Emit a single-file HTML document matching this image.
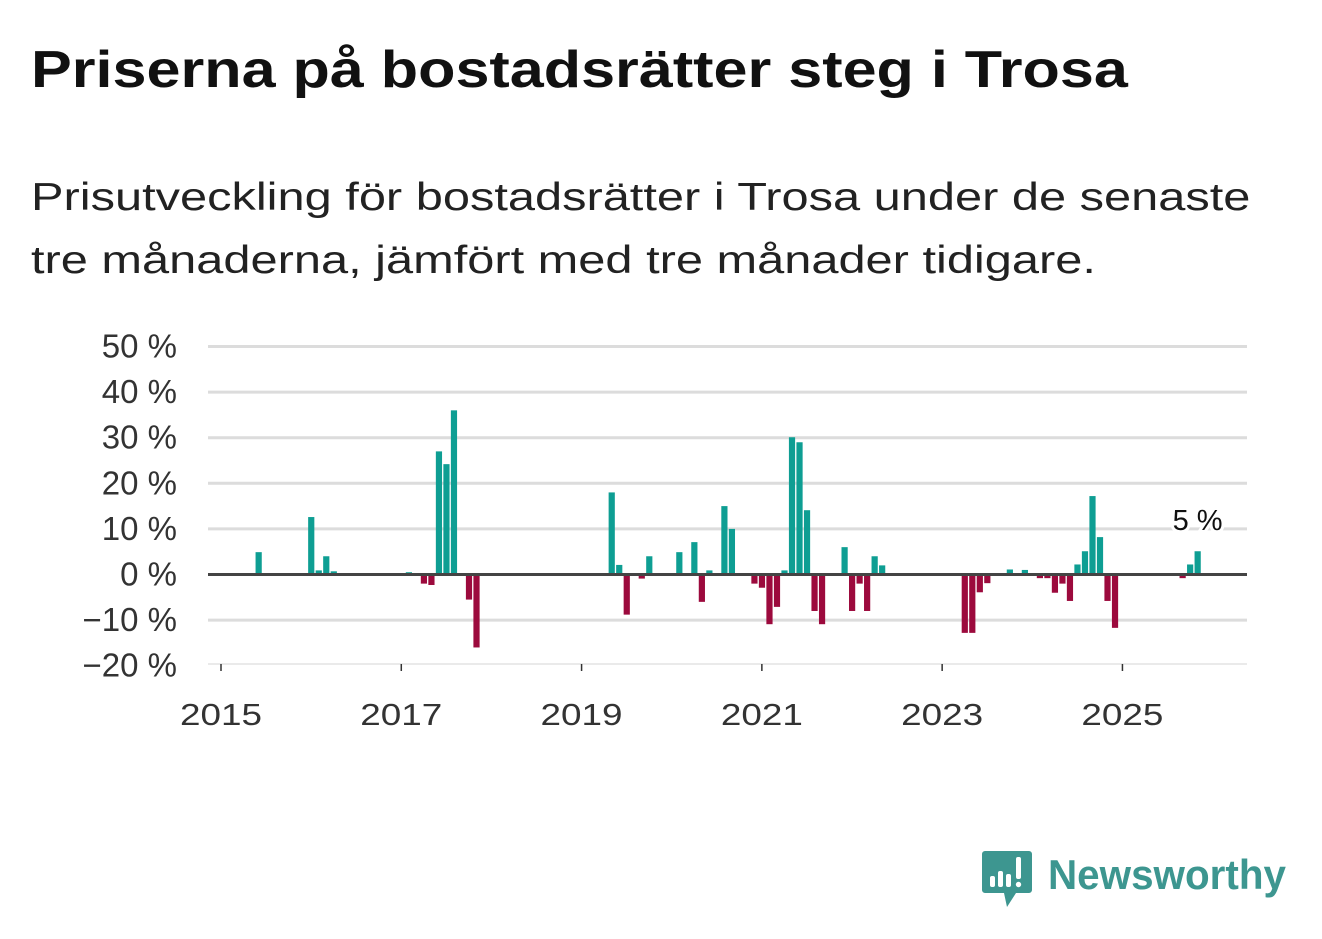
<!DOCTYPE html>
<html><head><meta charset="utf-8">
<style>
body{margin:0;background:#fff;font-family:"Liberation Sans","DejaVu Sans",sans-serif;}
#wrap{position:relative;width:1322px;height:939px;overflow:hidden;}
h1{position:absolute;left:31px;top:40px;margin:0;font-size:52px;font-weight:bold;color:#111;transform:scaleX(1.175);transform-origin:left top;white-space:nowrap;}
.sub{position:absolute;left:31px;top:166px;margin:0;font-size:39px;line-height:63px;color:#222;transform:scaleX(1.25);transform-origin:left top;white-space:nowrap;}
svg{position:absolute;left:0;top:0;}
</style></head>
<body><div id="wrap">
<h1>Priserna på bostadsrätter steg i Trosa</h1>
<p class="sub">Prisutveckling för bostadsrätter i Trosa under de senaste<br>tre månaderna, jämfört med tre månader tidigare.</p>
<svg id="chart" width="1322" height="939"></svg>
<svg width="1322" height="939" style="pointer-events:none">
<g>
<path d="M985 851 h44 a3 3 0 0 1 3 3 v36 a3 3 0 0 1 -3 3 h-13 l-9 14 l-3 -14 h-19 a3 3 0 0 1 -3 -3 v-36 a3 3 0 0 1 3 -3z" fill="#3d9690"/>
<rect x="990" y="876" width="5" height="11" rx="2" fill="#fff"/>
<rect x="998" y="871" width="5" height="16" rx="2" fill="#fff"/>
<rect x="1006" y="874" width="5" height="13" rx="2" fill="#fff"/>
<rect x="1016" y="857" width="5" height="22" rx="2" fill="#fff"/>
<circle cx="1018.5" cy="884.5" r="2.7" fill="#fff"/>
<text x="1048" y="889" font-size="42" font-weight="bold" fill="#3d9690" font-family="Liberation Sans, sans-serif" textLength="238" lengthAdjust="spacingAndGlyphs">Newsworthy</text>
</g></svg>
</div>
<script>
const monthIdx=[5,12,13,14,15,25,27,28,29,30,31,33,34,52,53,54,56,57,61,63,64,65,67,68,71,72,73,74,75,76,77,78,79,80,83,84,85,86,87,88,99,100,101,102,105,107,109,110,111,112,113,114,115,116,117,118,119,128,129,130];
const values=[4.9,12.6,0.9,4.0,0.7,0.5,-2.0,-2.3,27,24.2,36,-5.5,-16,18,2.1,-8.8,-0.9,4.0,4.9,7.1,-6.0,0.9,15,10,-2.0,-2.9,-10.9,-7.1,0.9,30.1,29,14.1,-8,-10.9,6,-8,-2,-8,4,2,-12.8,-12.8,-3.9,-1.9,1.1,1.0,-0.8,-0.8,-4,-2,-5.8,2.2,5.1,17.2,8.2,-5.8,-11.7,-0.8,2.2,5.1];
const yTicks=[50,40,30,20,10,0,-10,-20];
const yTickLabels=["50 %","40 %","30 %","20 %","10 %","0 %","\u221210 %","\u221220 %"];
const xYears=[2015,2017,2019,2021,2023,2025];
const lastLabel="5 %";
const NS="http://www.w3.org/2000/svg";
const svg=document.getElementById('chart');
const y=v=>574.5-v*4.56;
const x=m=>221+m*7.512;
const xYear=yr=>x((yr-2015)*12);
function mk(t,a){const e=document.createElementNS(NS,t);for(const k in a)e.setAttribute(k,a[k]);svg.appendChild(e);return e;}
yTicks.forEach((t,i)=>{
  if(t!==0&&t!==-20){const l=mk('line',{x1:208,x2:1247,y1:y(t),y2:y(t),stroke:'#dcdcdc','stroke-width':3});
  
  }
  const tx=mk('text',{x:177,y:y(t)+11,'text-anchor':'end','font-size':33,fill:'#333'});
  tx.textContent=yTickLabels[i];
  
  
});
const ax=mk('line',{x1:208,x2:1247,y1:664,y2:664,stroke:'#e4e4e4','stroke-width':1.5});


xYears.forEach(yr=>{
  const tk=mk('line',{x1:xYear(yr),x2:xYear(yr),y1:664,y2:671,stroke:'#333','stroke-width':1.5});
  
  
  const tx=mk('text',{x:xYear(yr),y:725,'text-anchor':'middle','font-size':31,fill:'#333',textLength:82,lengthAdjust:'spacingAndGlyphs'});
  tx.textContent=yr;
  
  
});
monthIdx.forEach((m,i)=>{
  const v=values[i];
  const r=mk('rect',{x:x(m)-3,y:Math.min(y(v),y(0)),width:6.2,height:Math.abs(y(v)-y(0)),fill:v>=0?'#0e9e93':'#9c0a3d'});
  
  
});
const z=mk('line',{x1:208,x2:1247,y1:y(0),y2:y(0),stroke:'#444','stroke-width':3});


const lm=monthIdx[monthIdx.length-1],lv=values[values.length-1];
const lb=mk('text',{x:x(lm),y:y(lv)-21,'text-anchor':'middle','font-size':29,fill:'#111',stroke:'#fff','stroke-width':6,'paint-order':'stroke'});
lb.textContent=lastLabel;


</script>
</body></html>
